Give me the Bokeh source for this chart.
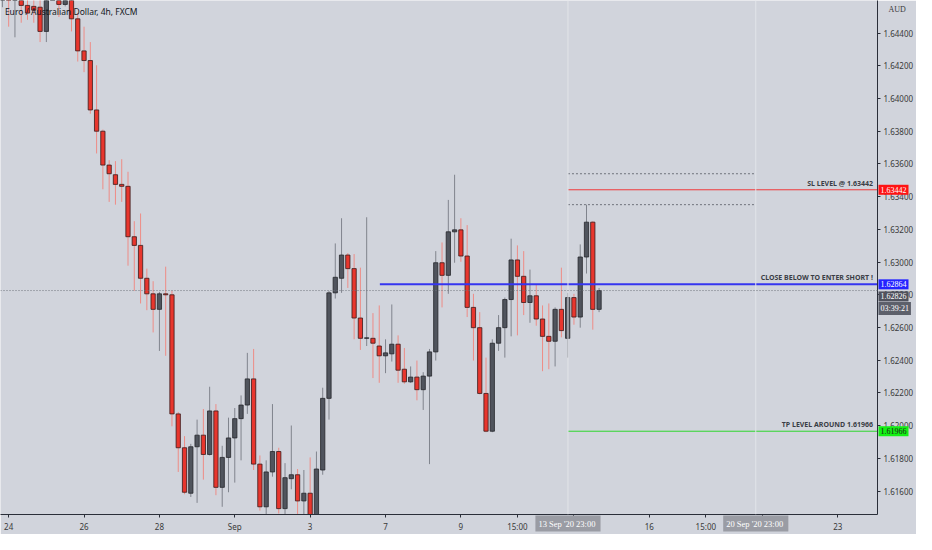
from bokeh.plotting import figure
from bokeh.models import ColumnDataSource, Range1d, FixedTicker, PrintfTickFormatter, Label, Span
from bokeh.embed import file_html
from bokeh.resources import INLINE

# 4h EUR/AUD candles, bar index 0 = 24 Aug (weekends skipped)
bars = list(range(-1, 95))
opens = [1.6462, 1.6472, 1.6463, 1.6466, 1.64569, 1.64563, 1.64558, 1.64410, 1.6462, 1.6466,
         1.64575, 1.6463, 1.64487, 1.64291, 1.64232, 1.63930, 1.63800, 1.63593, 1.63534, 1.63475,
         1.63463, 1.63155, 1.63102, 1.62901, 1.62806, 1.62711, 1.62806, 1.62800, 1.62072, 1.61865,
         1.61587, 1.61871, 1.61942, 1.61824, 1.62090, 1.61623, 1.61806, 1.61925, 1.62043, 1.62126,
         1.62286, 1.61765, 1.61504, 1.61717, 1.61842, 1.61493, 1.61676, 1.61700, 1.61540, 1.61587,
         1.61440, 1.61729, 1.62167, 1.62812, 1.62901, 1.63043, 1.62960, 1.62658, 1.62534, 1.62534,
         1.62487, 1.62427, 1.62439, 1.62498, 1.62345, 1.62268, 1.62297, 1.62220, 1.62303, 1.62451,
         1.62996, 1.62919, 1.63185, 1.63197, 1.63037, 1.62723, 1.62599, 1.62197, 1.61966, 1.62504,
         1.62599, 1.62771, 1.63013, 1.62913, 1.62753, 1.62794, 1.62652, 1.62546, 1.62516, 1.62711,
         1.62534, 1.62783, 1.62664, 1.63031, 1.63244, 1.62711]
highs = [1.6475, 1.6478, 1.6476, 1.6470, 1.6462, 1.6462, 1.6463, 1.6468, 1.6472, 1.6470,
         1.6467, 1.6466, 1.64522, 1.64439, 1.64345, 1.64203, 1.63810, 1.63623, 1.63617, 1.63629,
         1.63552, 1.63250, 1.63297, 1.62960, 1.62883, 1.62818, 1.62972, 1.62824, 1.62084, 1.61936,
         1.61889, 1.62037, 1.62102, 1.62238, 1.62132, 1.61877, 1.62049, 1.62108, 1.62185, 1.62445,
         1.62469, 1.61818, 1.61788, 1.62132, 1.61865, 1.61771, 1.62001, 1.61735, 1.61729, 1.61806,
         1.61842, 1.62232, 1.62824, 1.63114, 1.63268, 1.63055, 1.63049, 1.62966, 1.63274, 1.62688,
         1.62735, 1.62528, 1.62741, 1.62552, 1.62475, 1.62362, 1.62398, 1.62327, 1.62469, 1.63067,
         1.63120, 1.63380, 1.63534, 1.63268, 1.63226, 1.62806, 1.62694, 1.62416, 1.62528, 1.62676,
         1.62783, 1.63143, 1.63102, 1.63067, 1.62954, 1.62865, 1.62735, 1.62747, 1.62723, 1.62966,
         1.62812, 1.62806, 1.63108, 1.63351, 1.63250, 1.62842]
lows = [1.64558, 1.64439, 1.64374, 1.64463, 1.64481, 1.64463, 1.64345, 1.64345, 1.64605, 1.64498,
        1.64563, 1.64410, 1.64226, 1.64161, 1.63907, 1.63664, 1.63445, 1.63368, 1.63351, 1.63368,
        1.62978, 1.62824, 1.62747, 1.62706, 1.62570, 1.62457, 1.62427, 1.61996, 1.61717, 1.61581,
        1.61564, 1.61528, 1.61670, 1.61818, 1.61575, 1.61504, 1.61593, 1.61652, 1.61788, 1.62072,
        1.61729, 1.61481, 1.61440, 1.61688, 1.61463, 1.61440, 1.61611, 1.61440, 1.61440, 1.61420,
        1.61420, 1.61700, 1.62037, 1.62777, 1.62812, 1.62842, 1.62528, 1.62463, 1.62487, 1.62291,
        1.62262, 1.62321, 1.62392, 1.62262, 1.62256, 1.62262, 1.62155, 1.62096, 1.61765, 1.62398,
        1.62723, 1.62806, 1.62996, 1.63002, 1.62664, 1.62398, 1.62191, 1.61960, 1.61960, 1.62457,
        1.62416, 1.62546, 1.62552, 1.62676, 1.62629, 1.62611, 1.62333, 1.62345, 1.62362, 1.62540,
        1.62416, 1.62617, 1.62599, 1.62930, 1.62587, 1.62694]
closes = [1.6470, 1.6462, 1.6471, 1.64569, 1.64522, 1.64540, 1.64410, 1.6462, 1.6466, 1.64575,
          1.6463, 1.64487, 1.64291, 1.64232, 1.63930, 1.63800, 1.63593, 1.63540, 1.63475, 1.63463,
          1.63155, 1.63102, 1.62901, 1.62806, 1.62711, 1.62806, 1.62800, 1.62072, 1.61865, 1.61593,
          1.61871, 1.61942, 1.61824, 1.62090, 1.61623, 1.61806, 1.61925, 1.62043, 1.62126, 1.62286,
          1.61765, 1.61504, 1.61717, 1.61842, 1.61493, 1.61682, 1.61700, 1.61540, 1.61587, 1.61440,
          1.61735, 1.62167, 1.62812, 1.62907, 1.63043, 1.62960, 1.62658, 1.62534, 1.62537, 1.62504,
          1.62427, 1.62445, 1.62498, 1.62339, 1.62268, 1.62297, 1.62220, 1.62303, 1.62451, 1.62996,
          1.62919, 1.63185, 1.63197, 1.63037, 1.62723, 1.62599, 1.62197, 1.61966, 1.62504, 1.62599,
          1.62771, 1.63013, 1.62913, 1.62753, 1.62794, 1.62652, 1.62546, 1.62516, 1.62711, 1.62581,
          1.62783, 1.62664, 1.63031, 1.63244, 1.62711, 1.62826]

# axis ticks
x_tick_pos = [0, 12, 24, 36, 48, 60, 72, 81, 90, 102, 111, 120, 132]
x_tick_labels = ['24', '26', '28', 'Sep', '3', '7', '9', '15:00', '14', '16', '15:00', '21', '23']
y_ticks = [1.616, 1.618, 1.620, 1.622, 1.624, 1.626, 1.628, 1.630, 1.632, 1.634,
           1.636, 1.638, 1.640, 1.642, 1.644]

# drawn levels: price, first bar, colour, text
levels = [1.63442, 1.62864, 1.61966]
level_start = [89.05, 59.1, 89.05]
level_colors = ['#f0383a', '#3535f0', '#2fd62f']
level_texts = ['SL LEVEL @ 1.63442', 'CLOSE BELOW TO ENTER SHORT !', 'TP LEVEL AROUND 1.61966']
box_colors = ['#ff1414', '#2424ff', '#14f014']
box_text_colors = ['white', 'white', '#1a1a1a']

last_price = 1.62826
countdown = '03:39:21'
range_top = [1.63540, 1.63351]
vlines = [89.05, 118.95]
vline_texts = ["13 Sep '20  23:00", "20 Sep '20  23:00"]

X0, X1 = -1.30, 138.33
Y0, Y1 = 1.61457, 1.64599
BG = '#d1d4dc'
FONT = 'Noto Sans'

src = ColumnDataSource(dict(
    x=bars, high=highs, low=lows,
    top=[max(o, c) for o, c in zip(opens, closes)],
    bottom=[min(o, c) for o, c in zip(opens, closes)],
    body=['#e8362d' if c < o else '#50545d' for o, c in zip(opens, closes)],
    edge=['#3a1a1a' if c < o else '#24262b' for o, c in zip(opens, closes)],
    wick=['#ee8c86' if c < o else '#80848d' for o, c in zip(opens, closes)],
))

p = figure(width=916, height=534, title=None, toolbar_location=None, output_backend="svg",
           x_range=Range1d(X0, X1), y_range=Range1d(Y0, Y1),
           y_axis_location="right", min_border=0)
p.background_fill_color = BG
p.border_fill_color = BG
p.outline_line_color = None
p.xgrid.visible = False
p.ygrid.visible = False

# axes
for ax in (p.xaxis[0], p.yaxis[0]):
    ax.axis_line_color = '#2a2e39'
    ax.major_tick_line_color = '#2a2e39'
    ax.major_tick_out = 3
    ax.major_tick_in = 0
    ax.minor_tick_line_color = None
    ax.major_label_text_font = FONT
    ax.major_label_text_font_size = '8px'
    ax.major_label_text_color = '#3a3a3a'
    ax.major_label_standoff = 3
    ax.axis_label = None
p.xaxis.ticker = FixedTicker(ticks=x_tick_pos)
p.xaxis.major_label_overrides = dict(zip(x_tick_pos, x_tick_labels))
p.yaxis.ticker = FixedTicker(ticks=y_ticks)
p.yaxis.formatter = PrintfTickFormatter(format='%.5f')

# session lines and current price
for v in vlines:
    p.add_layout(Span(location=v, dimension='height', line_color='#e2e4e9', line_width=1))
p.add_layout(Span(location=last_price, dimension='width', line_color='#6f727b',
                  line_dash='1 2', line_width=1))
p.segment(x0=[vlines[0]] * 2, y0=range_top, x1=[vlines[1]] * 2, y1=range_top,
          line_color='#6f727b', line_dash='2 2', line_width=1)

# candles
p.segment(x0='x', y0='low', x1='x', y1='high', line_color='wick', line_width=1, source=src)
p.vbar(x='x', width=0.68, top='top', bottom='bottom', fill_color='body',
       line_color='edge', line_width=0.8, source=src)

# trade levels
p.segment(x0=level_start, y0=levels, x1=[X1] * 3, y1=levels,
          line_color=level_colors, line_width=[1, 2, 1])
for lv, txt in zip(levels, level_texts):
    p.add_layout(Label(x=137.6, y=lv, y_offset=2, text=txt, text_align='right',
                       text_baseline='bottom', text_font=FONT, text_font_size='7px',
                       text_font_style='bold', text_color='#3a3d45'))

# price scale boxes (overlay level so they can sit on the axis)
box_kw = dict(x_offset=1, text_align='left', text_baseline='middle', text_font=FONT,
              text_font_size='8px', padding=2, level='overlay')
for lv, bc, tc in zip(levels, box_colors, box_text_colors):
    p.text(x=[X1], y=[lv], text=['%.5f' % lv], text_color=tc,
           background_fill_color=bc, **box_kw)
p.text(x=[X1], y=[1.62790], text=['%.5f' % last_price], text_color='white',
       background_fill_color='#50535e', **box_kw)
p.text(x=[X1], y=[1.62717], text=[countdown], text_color='white',
       background_fill_color='#5d606b', **box_kw)
p.text(x=[X1], y=[1.64546], text=['AUD'], x_offset=11, text_align='left',
       text_baseline='middle', text_font=FONT, text_font_size='8px',
       text_color='#3a3a3a', level='overlay')

# time scale boxes under the time axis
p.text(x=vlines, y=[Y0] * 2, y_offset=9, text=vline_texts, text_align='center',
       text_baseline='middle', text_font=FONT, text_font_size='8.5px', text_color='white',
       background_fill_color='#9a9ca4', padding=3, level='overlay')

# symbol title
p.add_layout(Label(x=-0.6, y=1.64534, text='Euro / Australian Dollar, 4h, FXCM',
                   text_baseline='middle', text_font=FONT, text_font_size='8.5px',
                   text_color='#131722'))

open("out.html", "w").write(file_html(p, INLINE))
